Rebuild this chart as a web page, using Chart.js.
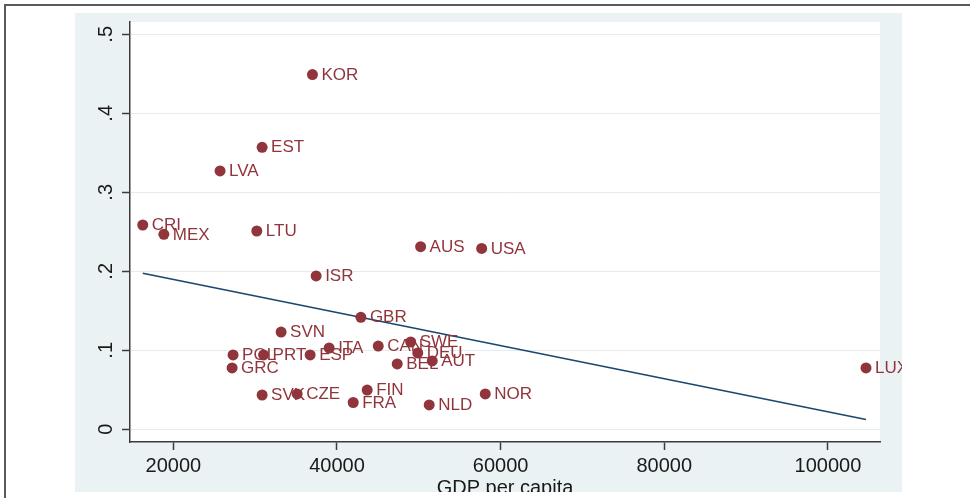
<!DOCTYPE html>
<html>
<head>
<meta charset="utf-8">
<script src="https://cdn.jsdelivr.net/npm/chart.js@4.4.1/dist/chart.umd.min.js"></script>
<style>
  html, body { margin: 0; padding: 0; background: #ffffff; }
  #wrap { position: relative; width: 970px; height: 498px; overflow: hidden; background: #ffffff; }
  #c { position: absolute; left: 0; top: 0; }
  .frameTop { position: absolute; left: 4px; top: 4px; width: 966px; height: 2px; background: #5a5a5a; }
  .frameLeft { position: absolute; left: 4px; top: 4px; width: 2px; height: 494px; background: #5a5a5a; }
</style>
</head>
<body>
<div id="wrap">
  <canvas id="c" width="902" height="492"></canvas>
  <div class="frameTop"></div>
  <div class="frameLeft"></div>
</div>
<script>
// ---- Data ----
const countries = ["KOR","EST","LVA","CRI","MEX","LTU","AUS","USA","ISR","GBR","SVN","ITA","CAN","SWE","DEU","AUT","BEL","POL","PRT","ESP","GRC","SVK","CZE","FIN","FRA","NLD","NOR","LUX"];
const gdpPerCapita = [37000,30850,25710,16260,18840,30200,50220,57680,37450,42920,33170,39040,45040,49010,49870,51640,47360,27300,31030,36720,27180,30850,35130,43690,41980,51270,58120,104650];
const shareValues = [0.449,0.357,0.327,0.2586,0.2468,0.251,0.2311,0.2289,0.1941,0.1418,0.123,0.1029,0.1054,0.1105,0.0966,0.0866,0.0827,0.0941,0.0941,0.0941,0.0776,0.0434,0.0447,0.0497,0.0339,0.0308,0.0447,0.0776];
const fitX = [16260, 104650];
const fitY = [0.1975, 0.0124];
const xTickValues = [20000, 40000, 60000, 80000, 100000];
const xTickLabels = ["20000", "40000", "60000", "80000", "100000"];
const yTickValues = [0, 0.1, 0.2, 0.3, 0.4, 0.5];
const yTickLabels = ["0", ".1", ".2", ".3", ".4", ".5"];
const xTitle = "GDP per capita";

const MAROON = '#90353b';
const NAVY = '#1a476f';
const BG = '#eaf2f3';
const AXIS = '#3c3c3c';
const FONT = "'Liberation Sans', Arial, Helvetica, sans-serif";

const points = countries.map((c, i) => ({ x: gdpPerCapita[i], y: shareValues[i], label: c }));
const fitLine = fitX.map((x, i) => ({ x: x, y: fitY[i] }));

const bgPlugin = {
  id: 'bg',
  beforeDraw(chart) {
    const ctx = chart.ctx, a = chart.chartArea;
    ctx.save();
    ctx.fillStyle = '#ffffff';
    ctx.fillRect(0, 0, chart.width, chart.height);
    ctx.fillStyle = BG;
    ctx.fillRect(75, 13, chart.width - 75, chart.height - 13);
    ctx.fillStyle = '#ffffff';
    ctx.fillRect(a.left, a.top, a.right - a.left, a.bottom - a.top);
    ctx.restore();
  }
};

const labelPlugin = {
  id: 'labels',
  afterDatasetsDraw(chart) {
    const ctx = chart.ctx;
    const meta = chart.getDatasetMeta(0);
    ctx.save();
    ctx.font = "17px " + FONT;
    ctx.fillStyle = MAROON;
    ctx.textAlign = 'left';
    ctx.textBaseline = 'middle';
    meta.data.forEach((el, i) => {
      ctx.fillText(countries[i], el.x + 9, el.y + 0.5);
    });
    ctx.restore();
  },
  afterDraw(chart) {
    const ctx = chart.ctx;
    const ys = chart.scales.y, xs = chart.scales.x, a = chart.chartArea;
    ctx.save();
    ctx.fillStyle = '#1a1a1a';
    ctx.font = "20px " + FONT;
    ctx.textAlign = 'center';
    ctx.textBaseline = 'alphabetic';
    yTickValues.forEach((v, i) => {
      const py = ys.getPixelForValue(v);
      ctx.save();
      ctx.translate(112, py);
      ctx.rotate(-Math.PI / 2);
      ctx.fillText(yTickLabels[i], 0, 0);
      ctx.restore();
    });
    ctx.fillText(xTitle, (a.left + a.right) / 2, 494);
    ctx.restore();
  }
};

new Chart(document.getElementById('c'), {
  type: 'scatter',
  data: {
    datasets: [
      {
        type: 'scatter',
        data: points,
        backgroundColor: MAROON,
        borderWidth: 0,
        pointRadius: 5.5,
        pointHoverRadius: 5.5,
        order: 1
      },
      {
        type: 'line',
        data: fitLine,
        borderColor: NAVY,
        borderWidth: 1.6,
        pointRadius: 0,
        fill: false,
        tension: 0,
        order: 2
      }
    ]
  },
  options: {
    responsive: false,
    animation: false,
    devicePixelRatio: 1,
    layout: { padding: { top: 22, right: 22, left: 0, bottom: 0 } },
    plugins: { legend: { display: false }, tooltip: { enabled: false }, title: { display: false } },
    scales: {
      x: {
        type: 'linear',
        min: 14703,
        max: 106361,
        afterBuildTicks(scale) { scale.ticks = xTickValues.map(v => ({ value: v })); },
        afterFit(scale) { scale.height = 50; },
        grid: { drawOnChartArea: false, drawTicks: true, tickLength: 8, tickColor: AXIS, tickWidth: 1.5 },
        border: { display: true, color: AXIS, width: 1.5 },
        ticks: {
          padding: 4,
          color: '#1a1a1a',
          font: { family: FONT, size: 20 },
          maxRotation: 0,
          autoSkip: false,
          callback: (v) => { const i = xTickValues.indexOf(v); return i >= 0 ? xTickLabels[i] : ''; }
        },
        title: { display: false }
      },
      y: {
        type: 'linear',
        min: -0.0161,
        max: 0.5156,
        afterBuildTicks(scale) { scale.ticks = yTickValues.map(v => ({ value: v })); },
        afterFit(scale) { scale.width = 130; },
        grid: { drawOnChartArea: true, color: '#e3edef', lineWidth: 1, drawTicks: true, tickLength: 8, tickColor: AXIS, tickWidth: 1.5 },
        border: { display: true, color: AXIS, width: 1.5 },
        ticks: { display: false }
      }
    }
  },
  plugins: [bgPlugin, labelPlugin]
});
</script>
</body>
</html>
